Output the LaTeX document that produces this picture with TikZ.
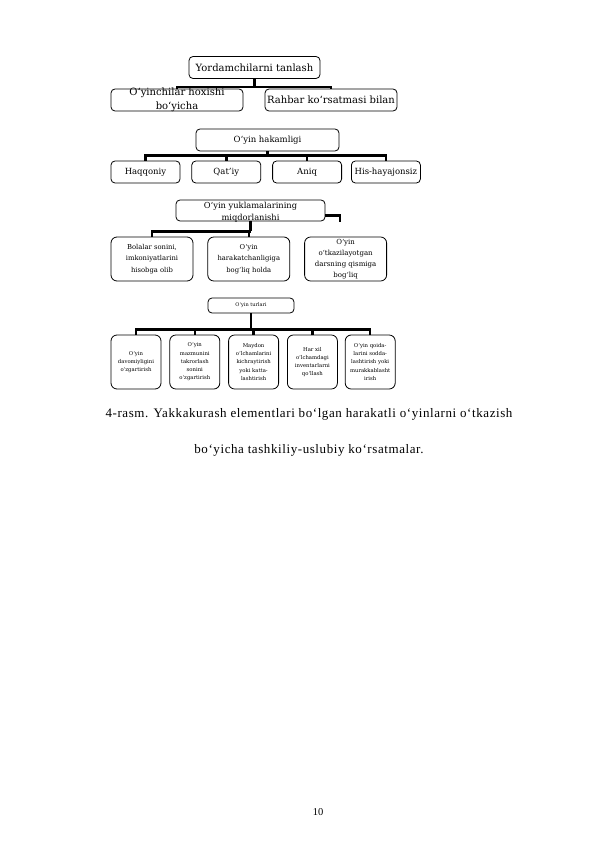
\documentclass[tikz,border=0pt]{standalone}
\usepackage{fontspec}
\setmainfont{Liberation Serif}
\newfontfamily\boxfont{DejaVu Serif}
\newfontfamily\capfont[LetterSpace=4.5]{Liberation Serif}
\usetikzlibrary{positioning}

\begin{document}
\begin{tikzpicture}[x=1pt, y=-1pt,
	rbox/.style={rectangle, draw, line width=.8pt, rounded corners=4pt, align=center, inner sep=1pt},
	onebox/.style={rbox, minimum height=22pt, minimum width=132pt, font=\boxfont\fontsize{10}{13.5}\selectfont},
	twobox/.style={rbox, minimum height=22pt, minimum width=69pt, font=\boxfont\fontsize{8.5}{10}\selectfont},
	threebox/.style={rbox, rounded corners=6pt, minimum height=44pt, minimum width=82pt, font=\boxfont\fontsize{6.8}{11.5}\selectfont},
	fourbox/.style={rbox, rounded corners=6pt, minimum height=54pt, minimum width=50pt, font=\boxfont\fontsize{5.3}{8.3}\selectfont},
	bar/.style={line width=2.4pt},
	every node/.style={align=center}
	]
	\useasboundingbox (0,0) rectangle (595,842);

	% Yordamchilar
	\node[onebox, minimum width=131pt] (yt) at (254.5,67.5) {Yordamchilarni tanlash};
	\node[onebox] (oh) at (177,100) {\raisebox{-5pt}{\smash{\begin{tabular}{@{}c@{}}O‘yinchilar hoxishi\\bo‘yicha\end{tabular}}}};
	\node[onebox] (rk) at (331,100) {Rahbar ko‘rsatmasi bilan};
	\draw[bar] (yt.south) -- ++(0,8) coordinate (b1);
	\draw[bar] (b1) -| (oh.north);
	\draw[bar] (b1) -| (rk.north);

	% Hakamlik
	\node[twobox, minimum width=143pt] (hk) at (267.5,140) {O‘yin hakamligi};
	\node[twobox] (hq) at (145.5,172) {Haqqoniy};
	\node[twobox, right=11pt of hq] (qt) {Qat’iy};
	\node[twobox, right=11pt of qt] (an) {Aniq};
	\node[twobox, right=9pt of an] (hh) {His-hayajonsiz};
	\draw[bar] (hk.south) -- ++(0,4) coordinate (b2);
	\foreach \n in {hq,qt,an,hh}
		\draw[bar] (b2) -| (\n.north);

	% Yuklamalar
	\node[rbox, minimum height=21pt, minimum width=149pt, font=\boxfont\fontsize{8.3}{12}\selectfont] (ym) at (250.5,210.5) {\raisebox{-7.5pt}{\smash{\begin{tabular}{@{}c@{}}O‘yin yuklamalarining\\miqdorlanishi\end{tabular}}}};
	\node[threebox] (bs) at (152,259) {Bolalar sonini,\\imkoniyatlarini\\hisobga olib};
	\node[threebox, right=14pt of bs] (hb) {O‘yin\\harakatchanligiga\\bog‘liq holda};
	\node[threebox, right=14pt of hb, font=\boxfont\fontsize{7}{11}\selectfont] (dq) {\raisebox{-2.5pt}{\smash{\begin{tabular}{@{}c@{}}O‘yin\\o‘tkazilayotgan\\darsning qismiga\\bog‘liq\end{tabular}}}};
	\coordinate (yend) at (340,222);
	\draw[bar] (ym.south) -- ++(0,10) coordinate (b3);
	\draw[bar] (b3) -| (bs.north);
	\draw[bar] (b3) -| (hb.north);
	\draw[bar] ([yshift=-5pt]ym.east) -| (yend);

	% Turlari
	\node[rbox, minimum height=15pt, minimum width=86pt, font=\boxfont\fontsize{5}{6}\selectfont] (ot) at (251,305.5) {O‘yin turlari};
	\node[fourbox] (dv) at (136,362) {O‘yin\\davomiyligini\\o‘zgartirish};
	\node[fourbox, right=8pt of dv] (mz) {O‘yin\\mazmunini\\takrorlash\\sonini\\o‘zgartirish};
	\node[fourbox, right=8pt of mz] (md) {Maydon\\o‘lchamlarini\\kichraytirish\\yoki katta-\\lashtirish};
	\node[fourbox, right=8pt of md] (hx) {Har xil\\o‘lchamdagi\\inventarlarni\\qo‘llash};
	\node[fourbox, right=7pt of hx] (qd) {O‘yin qoida-\\larini sodda-\\lashtirish yoki\\murakkablasht\\irish};
	\draw[bar] (ot.south) -- ++(0,16) coordinate (b4);
	\foreach \n in {dv,mz,md,hx,qd}
		\draw[bar] (b4) -| (\n.north);

	\node[font=\capfont\fontsize{13}{36}\selectfont] (cap) at (309,432) {4-rasm. Yakkakurash elementlari bo‘lgan harakatli o‘yinlarni o‘tkazish\\bo‘yicha tashkiliy-uslubiy ko‘rsatmalar.};
	\node[font=\fontsize{10.5}{12}\selectfont] (pg) at (318,812) {10};
\end{tikzpicture}
\end{document}
